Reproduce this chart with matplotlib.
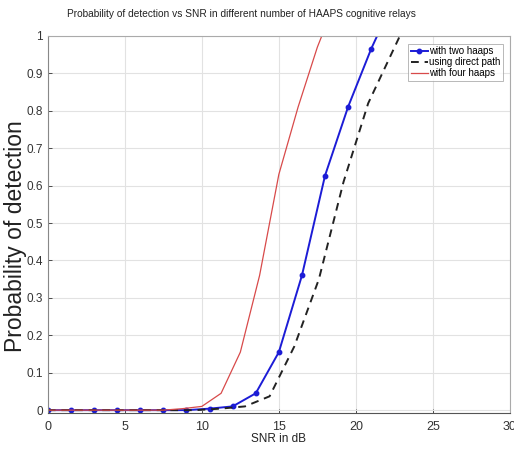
import numpy as np
import matplotlib
matplotlib.use('Agg')
import matplotlib.pyplot as plt

# values
snr_two = [0, 1.5, 3, 4.5, 6, 7.5, 9, 10.5, 12, 13.5, 15, 16.5, 18, 19.5, 21, 22.5]
pd_two = [0, 0, 0, 0, 0, 0, 0, 0.004, 0.01, 0.045, 0.155, 0.36, 0.627, 0.811, 0.966, 1.1]

snr_direct = [0, 1.6, 3.2, 4.8, 6.4, 8, 9.6, 11.2, 12.8, 14.4, 16, 17.6, 19.2, 20.8, 22.4, 24]
pd_direct = [0, 0, 0, 0, 0, 0, 0, 0.004, 0.01, 0.037, 0.17, 0.35, 0.61, 0.82, 0.96, 1.1]

snr_four = [0, 1.25, 2.5, 3.75, 5, 6.25, 7.5, 8.75, 10, 11.25, 12.5, 13.75, 15, 16.25, 17.5, 18.75]
pd_four = [0, 0, 0, 0, 0, 0, 0, 0.004, 0.01, 0.045, 0.155, 0.36, 0.63, 0.81, 0.97, 1.1]

xticks = [0, 5, 10, 15, 20, 25, 30]
yticks = [0, 0.1, 0.2, 0.3, 0.4, 0.5, 0.6, 0.7, 0.8, 0.9, 1]
ytick_labels = ['0', '0.1', '0.2', '0.3', '0.4', '0.5', '0.6', '0.7', '0.8', '0.9', '1']

plt.rcParams['font.family'] = ['Liberation Sans', 'DejaVu Sans']

fig = plt.figure(figsize=(5.14, 4.55), dpi=100)
ax = fig.add_axes([0.093, 0.092, 0.899, 0.829])

ax.plot(snr_two, pd_two, color='#1c1cd6', lw=1.4, marker='o', ms=3.2, label='with two haaps')
ax.plot(snr_direct, pd_direct, color='#222222', lw=1.4, ls=(0, (4, 3)), label='using direct path')
ax.plot(snr_four, pd_four, color='#d84a4a', lw=0.9, label='with four haaps')

ax.set_xlim(0, 30)
ax.set_ylim(-0.008, 1)
ax.set_xticks(xticks)
ax.set_yticks(yticks)
ax.set_yticklabels(ytick_labels)
ax.tick_params(direction='in', length=3, labelsize=8.5, colors='#333333', width=0.6)
ax.tick_params(axis='x', pad=6, labelsize=9)
ax.grid(True, color='#e2e2e2', lw=0.8)
for s in ax.spines.values():
    s.set_color('#aaaaaa')
    s.set_linewidth(0.8)
ax.spines['bottom'].set_color('#555555')
ax.spines['left'].set_color('#888888')

ax.set_title('Probability of detection vs SNR in different number of HAAPS cognitive relays',
             fontsize=7.3, pad=14, color='#222222', x=0.42)
ax.set_xlabel('SNR in dB', fontsize=8.5, labelpad=0, color='#222222')
ax.set_ylabel('Probability of detection', fontsize=16.5, color='#222222')
ax.yaxis.set_label_coords(-0.046, 0.47)

leg = ax.legend(loc='upper right', bbox_to_anchor=(0.99, 0.985), fontsize=7,
                frameon=True, fancybox=False, borderpad=0.3, labelspacing=0.1,
                handlelength=1.8, handletextpad=0.1, borderaxespad=0.2)
leg.get_frame().set_edgecolor('#999999')
leg.get_frame().set_linewidth(0.6)

fig.savefig('out.png', dpi=100)
